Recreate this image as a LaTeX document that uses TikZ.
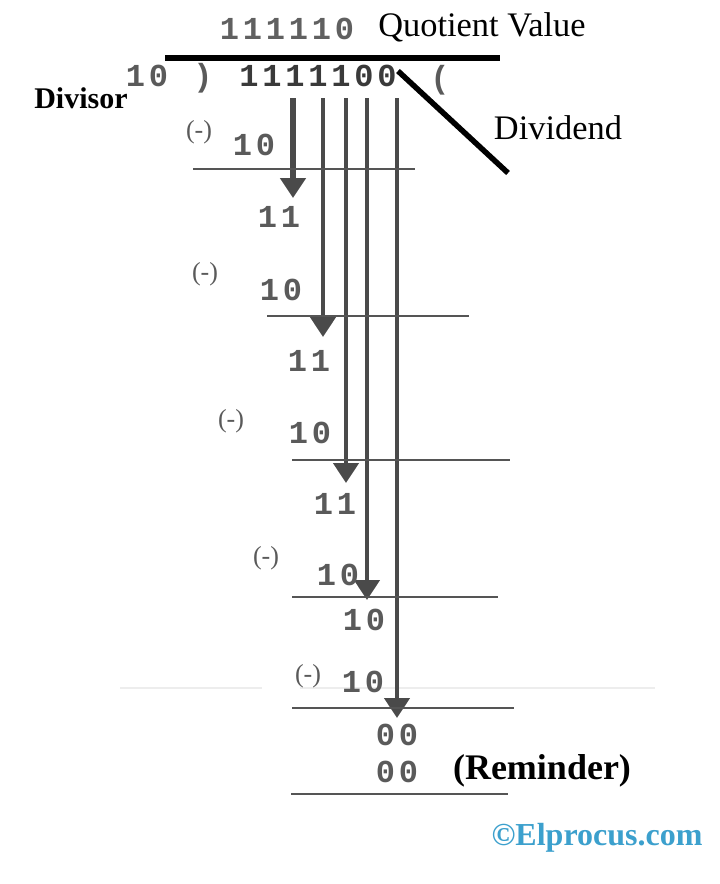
\documentclass[tikz,border=0pt]{standalone}
\usepackage{fontspec}
\setmainfont{Liberation Serif}
\newfontfamily\monof[LetterSpace=12]{Liberation Mono}
\usetikzlibrary{arrows.meta}
\definecolor{dg}{HTML}{5a5a5a}
\definecolor{qg}{HTML}{606060}
\definecolor{bg}{HTML}{3a3a3a}
\definecolor{vg}{HTML}{4a4a4a}
\definecolor{hg}{HTML}{555555}
\definecolor{fg}{HTML}{EDEDED}
\definecolor{logo}{RGB}{60,160,205}
\tikzset{
  txt/.style={inner sep=0pt, anchor=base},
  digits/.style={txt, text=dg, font=\monof\bfseries\fontsize{32}{34}\selectfont},
  minus/.style={txt, text=dg, font=\fontsize{26}{28}\selectfont},
  lab/.style={txt, text=black, font=\fontsize{34.4}{36}\selectfont},
  bar/.style={draw=hg, line width=2.5pt},
  arr/.style={draw=vg, line width=4.5pt, -{Triangle[width=25pt,length=20pt]}},
  heavy/.style={draw=black, line width=5.5pt},
}
\begin{document}
\begin{tikzpicture}[x=1pt,y=-1pt]
\useasboundingbox (0,0) rectangle (720,884);
\fill[white] (0,0) rectangle (720,884);

% faint artefact line
\draw[fg, line width=2pt] (120,688) -- (262,688);
\draw[fg, line width=2pt] (300,688) -- (655,688);

% header
\node[digits, text=qg] (quo) at (287,39) {111110};
\node[lab] (qv) at (482,36) {Quotient Value};
\coordinate (qa) at (165,58);
\coordinate (qb) at (500,58);
\draw[heavy] (qa) -- (qb);
\node[digits] (dvs) at (147,86) {10};
\node[digits] (rp) at (203,86) {)};
\node[digits, text=bg] (dvd) at (318,86) {1111100};
\node[digits] (lp) at (440,88) {(};
\node[txt, font=\bfseries\fontsize{30}{32}\selectfont] (divisor) at (81,108) {Divisor};
\node[lab] (dividend) at (558,139) {Dividend};
\coordinate (la) at (398,71);
\coordinate (lb) at (508,173);
\draw[heavy] (la) -- (lb);

% columns
\coordinate (t1) at (293,98);  \coordinate (b1) at (293,198);
\coordinate (t2) at (323,98);  \coordinate (b2) at (323,337);
\coordinate (t3) at (346,98);  \coordinate (b3) at (346,483);
\coordinate (t4) at (367,98);  \coordinate (b4) at (367,600);
\coordinate (t5) at (397,98);  \coordinate (b5) at (397,718);
\draw[arr, line width=5.5pt] (t1) -- (b1);
\draw[arr] (t2) -- (b2);
\draw[arr] (t3) -- (b3);
\draw[arr] (t4) -- (b4);
\draw[arr] (t5) -- (b5);

% horizontal rules
\coordinate (h1a) at (193,169); \coordinate (h1b) at (415,169);
\coordinate (h2a) at (267,316); \coordinate (h2b) at (469,316);
\coordinate (h3a) at (292,460); \coordinate (h3b) at (510,460);
\coordinate (h4a) at (292,597); \coordinate (h4b) at (498,597);
\coordinate (h5a) at (292,708); \coordinate (h5b) at (514,708);
\coordinate (h6a) at (291,794); \coordinate (h6b) at (508,794);
\draw[bar] (h1a) -- (h1b);
\draw[bar] (h2a) -- (h2b);
\draw[bar] (h3a) -- (h3b);
\draw[bar] (h4a) -- (h4b);
\draw[bar] (h5a) -- (h5b);
\draw[bar] (h6a) -- (h6b);

% steps
\node[minus] (m1) at (199,138) {(-)};
\node[digits] (s1) at (254,155) {10};
\node[digits] (r1) at (279,227) {11};
\node[minus] (m2) at (205,280) {(-)};
\node[digits] (s2) at (281,300) {10};
\node[digits] (r2) at (309,371) {11};
\node[minus] (m3) at (231,427) {(-)};
\node[digits] (s3) at (310,443) {10};
\node[digits] (r3) at (335,514) {11};
\node[minus] (m4) at (266,564) {(-)};
\node[digits] (s4) at (338,585) {10};
\node[digits] (r4) at (364,630) {10};
\node[minus] (m5) at (308,682) {(-)};
\node[digits] (s5) at (363,692) {10};
\node[digits] (r5) at (397,745) {00};
\node[digits] (r6) at (397,782) {00};
\node[txt, font=\bfseries\fontsize{36}{38}\selectfont] (rem) at (542,779) {(Reminder)};

\node[txt, text=logo, font=\bfseries\fontsize{32}{34}\selectfont] (logo) at (597,845) {©Elprocus.com};
\end{tikzpicture}
\end{document}
